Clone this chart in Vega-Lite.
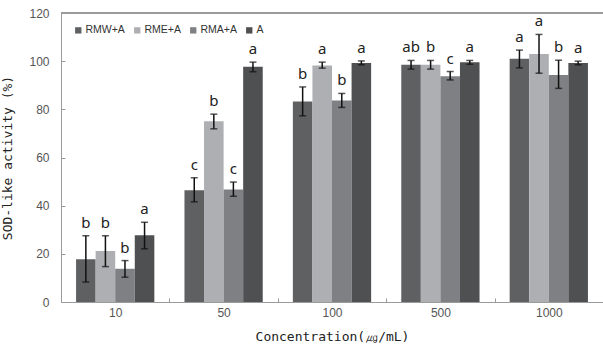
{
  "$schema": "https://vega.github.io/schema/vega-lite/v6.json",
  "width": 542,
  "height": 289,
  "autosize": {"type": "none"},
  "padding": {"left": 61, "top": 13, "right": 0, "bottom": 45},
  "config": {
    "view": {"stroke": null},
    "axis": {"domainColor": "#9a9a9a", "tickColor": "#9a9a9a", "labelColor": "#555", "labelFont": "Liberation Sans", "labelFontSize": 12, "titleFont": "DejaVu Sans Mono", "titleFontSize": 13, "titleFontWeight": "normal", "titleColor": "#222", "grid": false}
  },
  "data": {"values": [
    {"conc": "10", "group": "RMW+A", "value": 17.8, "lo": 8.3, "hi": 27.5, "letter": "b"},
    {"conc": "10", "group": "RME+A", "value": 21.2, "lo": 14.7, "hi": 27.5, "letter": "b"},
    {"conc": "10", "group": "RMA+A", "value": 13.8, "lo": 10.3, "hi": 17.2, "letter": "b"},
    {"conc": "10", "group": "A", "value": 27.7, "lo": 22.1, "hi": 33.1, "letter": "a"},
    {"conc": "50", "group": "RMW+A", "value": 46.4, "lo": 41.6, "hi": 51.6, "letter": "c"},
    {"conc": "50", "group": "RME+A", "value": 75.1, "lo": 71.9, "hi": 78.0, "letter": "b"},
    {"conc": "50", "group": "RMA+A", "value": 46.7, "lo": 43.9, "hi": 49.8, "letter": "c"},
    {"conc": "50", "group": "A", "value": 97.7, "lo": 95.6, "hi": 99.6, "letter": "a"},
    {"conc": "100", "group": "RMW+A", "value": 83.3, "lo": 77.3, "hi": 89.3, "letter": "b"},
    {"conc": "100", "group": "RME+A", "value": 98.2, "lo": 97.1, "hi": 99.6, "letter": "a"},
    {"conc": "100", "group": "RMA+A", "value": 83.7, "lo": 80.8, "hi": 86.6, "letter": "b"},
    {"conc": "100", "group": "A", "value": 99.2, "lo": 98.5, "hi": 100.1, "letter": "a"},
    {"conc": "500", "group": "RMW+A", "value": 98.5, "lo": 96.7, "hi": 100.3, "letter": "ab"},
    {"conc": "500", "group": "RME+A", "value": 98.5, "lo": 96.7, "hi": 100.3, "letter": "b"},
    {"conc": "500", "group": "RMA+A", "value": 93.7, "lo": 92.2, "hi": 95.7, "letter": "c"},
    {"conc": "500", "group": "A", "value": 99.6, "lo": 98.7, "hi": 100.3, "letter": "a"},
    {"conc": "1000", "group": "RMW+A", "value": 101.0, "lo": 97.2, "hi": 104.6, "letter": "a"},
    {"conc": "1000", "group": "RME+A", "value": 103.0, "lo": 95.0, "hi": 111.1, "letter": "a"},
    {"conc": "1000", "group": "RMA+A", "value": 94.3, "lo": 88.7, "hi": 100.4, "letter": "b"},
    {"conc": "1000", "group": "A", "value": 99.2, "lo": 98.5, "hi": 100.0, "letter": "a"}
  ]},
  "encoding": {
    "x": {"field": "conc", "type": "nominal", "sort": ["10", "50", "100", "500", "1000"],
      "scale": {"paddingInner": 0, "paddingOuter": 0},
      "axis": {"title": "Concentration(㎍/mL)", "labelAngle": 0, "tickBand": "extent", "tickSize": -4, "labelPadding": 9, "titlePadding": 12}},
    "xOffset": {"field": "group", "type": "nominal", "sort": ["RMW+A", "RME+A", "RMA+A", "A"],
      "scale": {"paddingInner": 0, "paddingOuter": 0.77}}
  },
  "layer": [
    {
      "mark": {"type": "rule", "color": "#9a9a9a", "strokeWidth": 1},
      "encoding": {"y": {"datum": 120, "type": "quantitative"}, "x": null, "xOffset": null}
    },
    {
      "mark": {"type": "bar"},
      "encoding": {
        "y": {"field": "value", "type": "quantitative", "scale": {"domain": [0, 120]},
          "axis": {"title": "SOD-like activity (%)", "values": [0, 20, 40, 60, 80, 100, 120], "tickSize": -4, "labelPadding": 16, "titlePadding": 14}},
        "color": {"field": "group", "type": "nominal", "sort": ["RMW+A", "RME+A", "RMA+A", "A"],
          "scale": {"domain": ["RMW+A", "RME+A", "RMA+A", "A"], "range": ["#5f6062", "#aeafb2", "#7f8083", "#4f5052"]},
          "legend": {"title": null, "orient": "none", "legendX": 12, "legendY": 12, "direction": "horizontal", "symbolType": "square", "symbolSize": 40, "symbolStrokeWidth": 0, "labelFont": "Liberation Sans", "labelFontSize": 10.5, "labelColor": "#333", "columnPadding": 7, "labelOffset": 2}}
      }
    },
    {
      "mark": {"type": "rule", "color": "#111", "strokeWidth": 1.5},
      "encoding": {"y": {"field": "lo", "type": "quantitative"}, "y2": {"field": "hi"}}
    },
    {
      "mark": {"type": "tick", "color": "#111", "thickness": 1.5, "size": 7},
      "encoding": {"y": {"field": "lo", "type": "quantitative"}}
    },
    {
      "mark": {"type": "tick", "color": "#111", "thickness": 1.5, "size": 7},
      "encoding": {"y": {"field": "hi", "type": "quantitative"}}
    },
    {
      "mark": {"type": "text", "baseline": "bottom", "dy": -5, "font": "Noto Sans", "fontSize": 15, "color": "#222"},
      "encoding": {"y": {"field": "hi", "type": "quantitative"}, "text": {"field": "letter"}}
    }
  ]
}
